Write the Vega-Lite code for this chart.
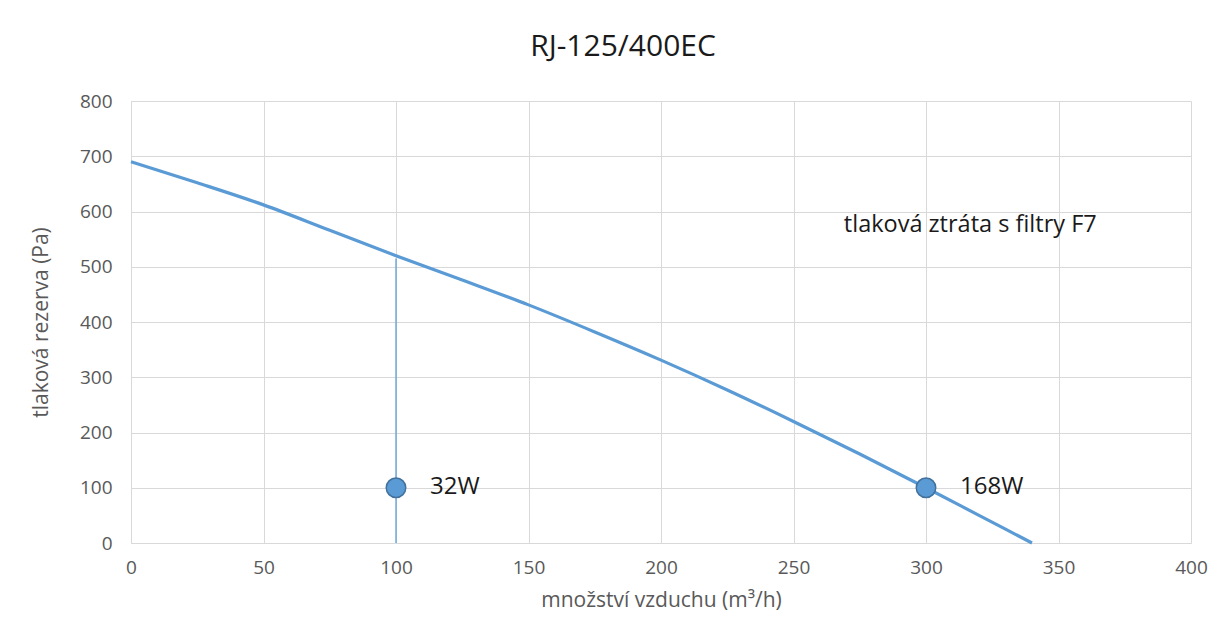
{
  "$schema": "https://vega.github.io/schema/vega-lite/v6.json",
  "width": 1060,
  "height": 442,
  "autosize": {"type": "none"},
  "padding": {"left": 131, "top": 101, "right": 38, "bottom": 101},
  "background": "white",
  "title": {"text": "RJ-125/400EC", "fontSize": 30, "font": "Open Sans", "fontWeight": "normal", "color": "#1a1a1a", "offset": 30, "dx": -38},
  "config": {
    "view": {"stroke": null},
    "axis": {"gridColor": "#d9d9d9", "domainColor": "#d9d9d9", "tickColor": "#d9d9d9", "ticks": false, "labelFont": "Open Sans", "labelFontSize": 19, "labelColor": "#595959", "titleFont": "Open Sans", "titleFontSize": 21, "titleColor": "#595959", "titleFontWeight": "normal"}
  },
  "datasets": {
    "curve": [
      {"q": 0, "p": 690}, {"q": 25, "p": 652}, {"q": 50, "p": 612}, {"q": 75, "p": 566},
      {"q": 100, "p": 520}, {"q": 125, "p": 476}, {"q": 150, "p": 431}, {"q": 175, "p": 382},
      {"q": 200, "p": 331}, {"q": 225, "p": 277}, {"q": 250, "p": 220}, {"q": 275, "p": 161},
      {"q": 300, "p": 100}, {"q": 320, "p": 50}, {"q": 340, "p": 0}
    ],
    "pts": [
      {"q": 100, "p": 100, "label": "32W"},
      {"q": 300, "p": 100, "label": "168W"}
    ],
    "vline": [{"q": 100, "p0": 0, "p1": 515}],
    "note": [{"q": 269, "p": 575, "label": "tlaková ztráta s filtry F7"}]
  },
  "layer": [
    {
      "data": {"name": "vline"},
      "mark": {"type": "rule", "color": "#5b9bd5", "strokeWidth": 1.5, "opacity": 0.85},
      "encoding": {
        "x": {"field": "q", "type": "quantitative", "scale": {"domain": [0, 400]}, "axis": {"values": [0,50,100,150,200,250,300,350,400], "labelFlush": false, "title": "množství vzduchu (m³/h)", "titlePadding": 12, "labelPadding": 15}},
        "y": {"field": "p0", "type": "quantitative", "scale": {"domain": [0, 800]}, "axis": {"values": [0,100,200,300,400,500,600,700,800], "title": "tlaková rezerva (Pa)", "titlePadding": 28, "labelPadding": 19}},
        "y2": {"field": "p1"}
      }
    },
    {
      "data": {"name": "curve"},
      "mark": {"type": "line", "color": "#5b9bd5", "strokeWidth": 3.2, "interpolate": "monotone"},
      "encoding": {
        "x": {"field": "q", "type": "quantitative"},
        "y": {"field": "p", "type": "quantitative"}
      }
    },
    {
      "data": {"name": "pts"},
      "mark": {"type": "point", "shape": "circle", "size": 380, "filled": true, "fill": "#5b9bd5", "stroke": "#41719c", "strokeWidth": 1.5, "opacity": 1},
      "encoding": {
        "x": {"field": "q", "type": "quantitative"},
        "y": {"field": "p", "type": "quantitative"}
      }
    },
    {
      "data": {"name": "pts"},
      "mark": {"type": "text", "align": "left", "dx": 34, "dy": -1, "fontSize": 24, "font": "Open Sans", "color": "#1a1a1a"},
      "encoding": {
        "x": {"field": "q", "type": "quantitative"},
        "y": {"field": "p", "type": "quantitative"},
        "text": {"field": "label"}
      }
    },
    {
      "data": {"name": "note"},
      "mark": {"type": "text", "align": "left", "fontSize": 23.5, "font": "Open Sans", "color": "#1a1a1a"},
      "encoding": {
        "x": {"field": "q", "type": "quantitative"},
        "y": {"field": "p", "type": "quantitative"},
        "text": {"field": "label"}
      }
    }
  ]
}
